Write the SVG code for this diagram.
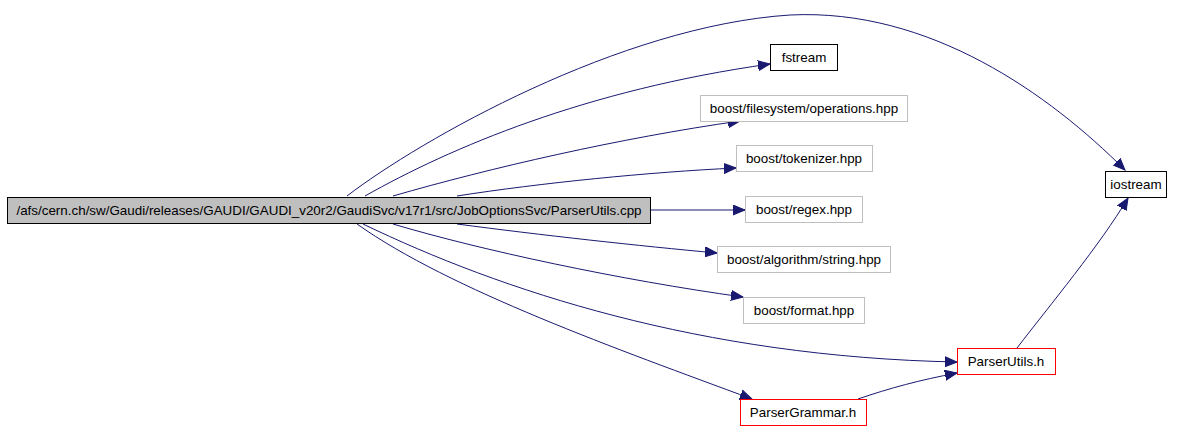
<svg xmlns="http://www.w3.org/2000/svg" width="1184" height="430" viewBox="0 0 1184 430">
<defs>
<style>
.n rect{stroke-width:1}
.t{font-family:"Liberation Sans",Arial,sans-serif;font-size:13.4px;fill:#000;text-anchor:middle}
.e{fill:none;stroke:#191970;stroke-width:1;marker-end:url(#a)}
</style>
<marker id="a" markerUnits="userSpaceOnUse" markerWidth="13" markerHeight="11" refX="12" refY="5" orient="auto" viewBox="0 0 13 10">
<path d="M0,0 L12,5 L0,10 Z" fill="#191970" stroke="#191970"/>
</marker>
</defs>
<rect width="1184" height="430" fill="#fff"/>
<g id="edges">
<path class="e" d="M347,196 C420,140 620,26 790,15 C930,8 1050,95 1125,170"/>
<path class="e" d="M365,196 C450,148 585,90 770,64"/>
<path class="e" d="M393,196 C490,168 620,138 740,121"/>
<path class="e" d="M457,196 C540,183 650,172 736,168"/>
<path class="e" d="M651,210 L745,210"/>
<path class="e" d="M457,224 C540,235 640,246 717,253"/>
<path class="e" d="M393,224 C480,250 620,280 743,297"/>
<path class="e" d="M363,224 C500,290 700,357 957,362"/>
<path class="e" d="M357,224 C450,290 620,350 752,399"/>
<path class="e" d="M858,399 C890,388 920,380 957,373"/>
<path class="e" d="M1017,348 C1050,305 1100,245 1128,198"/>
</g>
<g id="main" class="n"><rect x="7.5" y="197.5" width="643" height="26" fill="#bfbfbf" stroke="#000"/><text class="t" x="329" y="215">/afs/cern.ch/sw/Gaudi/releases/GAUDI/GAUDI_v20r2/GaudiSvc/v17r1/src/JobOptionsSvc/ParserUtils.cpp</text></g>
<g id="fstream" class="n"><rect x="770.5" y="44.5" width="67" height="26" fill="#fff" stroke="#000"/><text class="t" x="804" y="62">fstream</text></g>
<g id="filesystem" class="n"><rect x="700.5" y="95.5" width="207" height="26" fill="#fff" stroke="#bfbfbf"/><text class="t" x="804" y="113">boost/filesystem/operations.hpp</text></g>
<g id="tokenizer" class="n"><rect x="736.5" y="145.5" width="136" height="26" fill="#fff" stroke="#bfbfbf"/><text class="t" x="804" y="163">boost/tokenizer.hpp</text></g>
<g id="regex" class="n"><rect x="745.5" y="196.5" width="117" height="26" fill="#fff" stroke="#bfbfbf"/><text class="t" x="804" y="214">boost/regex.hpp</text></g>
<g id="algorithm" class="n"><rect x="717.5" y="246.5" width="173" height="26" fill="#fff" stroke="#bfbfbf"/><text class="t" x="804" y="264">boost/algorithm/string.hpp</text></g>
<g id="format" class="n"><rect x="743.5" y="297.5" width="121" height="26" fill="#fff" stroke="#bfbfbf"/><text class="t" x="804" y="315">boost/format.hpp</text></g>
<g id="parserutils" class="n"><rect x="957.5" y="348.5" width="98" height="26" fill="#fff" stroke="#ff0000"/><text class="t" x="1006" y="366">ParserUtils.h</text></g>
<g id="parsergrammar" class="n"><rect x="740.5" y="399.5" width="126" height="26" fill="#fff" stroke="#ff0000"/><text class="t" x="803" y="417">ParserGrammar.h</text></g>
<g id="iostream" class="n"><rect x="1105.5" y="171.5" width="61" height="26" fill="#fff" stroke="#000"/><text class="t" x="1136" y="189">iostream</text></g>
</svg>
